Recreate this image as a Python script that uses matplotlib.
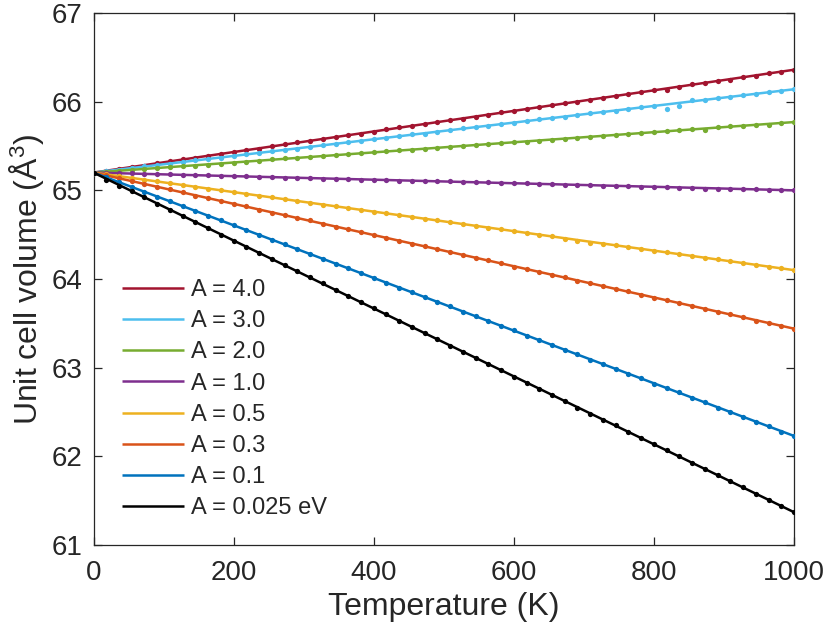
import matplotlib
matplotlib.use("Agg")
import matplotlib.pyplot as plt
import numpy as np

plt.rcParams['font.family'] = ['Liberation Sans', 'DejaVu Sans']
plt.rcParams['mathtext.fontset'] = 'custom'
plt.rcParams['mathtext.rm'] = 'Liberation Sans'
plt.rcParams['mathtext.it'] = 'Liberation Sans'

# Temperature grid of the computed points (K)
temperature = [0, 18.2, 36.4, 54.5, 72.7, 90.9, 109.1, 127.3, 145.5, 163.6, 181.8,
               200, 218.2, 236.4, 254.5, 272.7, 290.9, 309.1, 327.3, 345.5, 363.6, 381.8,
               400, 418.2, 436.4, 454.5, 472.7, 490.9, 509.1, 527.3, 545.5, 563.6, 581.8,
               600, 618.2, 636.4, 654.5, 672.7, 690.9, 709.1, 727.3, 745.5, 763.6, 781.8,
               800, 818.2, 836.4, 854.5, 872.7, 890.9, 909.1, 927.3, 945.5, 963.6, 981.8,
               1000]

labels = ["A = 4.0", "A = 3.0", "A = 2.0", "A = 1.0", "A = 0.5", "A = 0.3", "A = 0.1", "A = 0.025 eV"]
colors = ["#A2142F", "#4DBEEE", "#77AC30", "#7E2F8E", "#EDB120", "#D95319", "#0072BD", "#000000"]

# Computed unit cell volumes (dots)
vol_A4 = [65.20, 65.22, 65.24, 65.26, 65.28, 65.31, 65.33, 65.35, 65.37, 65.39, 65.41,
          65.43, 65.45, 65.47, 65.50, 65.52, 65.54, 65.56, 65.58, 65.60, 65.62, 65.64,
          65.66, 65.69, 65.71, 65.73, 65.75, 65.77, 65.79, 65.81, 65.83, 65.85, 65.88,
          65.90, 65.92, 65.94, 65.96, 65.98, 66.00, 66.02, 66.04, 66.06, 66.09, 66.11,
          66.13, 66.13, 66.16, 66.20, 66.21, 66.23, 66.25, 66.28, 66.29, 66.32, 66.34,
          66.36]
vol_A3 = [65.20, 65.22, 65.23, 65.25, 65.27, 65.29, 65.30, 65.32, 65.34, 65.35, 65.37,
          65.39, 65.41, 65.42, 65.44, 65.46, 65.47, 65.49, 65.51, 65.52, 65.54, 65.56,
          65.58, 65.59, 65.61, 65.63, 65.64, 65.66, 65.68, 65.70, 65.71, 65.73, 65.75,
          65.76, 65.78, 65.80, 65.82, 65.83, 65.85, 65.87, 65.88, 65.90, 65.92, 65.94,
          65.95, 65.92, 65.95, 66.02, 66.02, 66.04, 66.05, 66.07, 66.09, 66.11, 66.12,
          66.14]
vol_A2 = [65.20, 65.21, 65.22, 65.23, 65.24, 65.25, 65.26, 65.27, 65.28, 65.29, 65.30,
          65.31, 65.32, 65.33, 65.35, 65.36, 65.37, 65.38, 65.39, 65.40, 65.41, 65.42,
          65.43, 65.44, 65.45, 65.46, 65.47, 65.48, 65.49, 65.50, 65.51, 65.52, 65.53,
          65.54, 65.55, 65.56, 65.57, 65.58, 65.59, 65.60, 65.61, 65.62, 65.64, 65.65,
          65.66, 65.67, 65.68, 65.69, 65.68, 65.71, 65.72, 65.73, 65.74, 65.74, 65.76,
          65.77]
vol_A1 = [65.20, 65.20, 65.19, 65.19, 65.18, 65.18, 65.18, 65.17, 65.17, 65.17, 65.16,
          65.16, 65.16, 65.15, 65.15, 65.14, 65.14, 65.14, 65.13, 65.13, 65.13, 65.12,
          65.12, 65.12, 65.11, 65.11, 65.10, 65.10, 65.10, 65.09, 65.09, 65.09, 65.08,
          65.08, 65.08, 65.07, 65.07, 65.06, 65.06, 65.06, 65.05, 65.05, 65.05, 65.04,
          65.04, 65.04, 65.03, 65.03, 65.02, 65.02, 65.02, 65.01, 65.01, 65.00, 65.00,
          65.00]
vol_A05 = [65.20, 65.18, 65.16, 65.14, 65.12, 65.10, 65.08, 65.06, 65.04, 65.02, 65.00,
           64.98, 64.96, 64.94, 64.92, 64.90, 64.88, 64.86, 64.84, 64.82, 64.80, 64.78,
           64.76, 64.74, 64.72, 64.70, 64.68, 64.66, 64.64, 64.62, 64.60, 64.58, 64.56,
           64.54, 64.52, 64.50, 64.48, 64.45, 64.43, 64.41, 64.40, 64.38, 64.36, 64.34,
           64.32, 64.30, 64.28, 64.26, 64.24, 64.22, 64.20, 64.18, 64.16, 64.14, 64.12,
           64.10]
vol_A03 = [65.20, 65.17, 65.14, 65.10, 65.07, 65.04, 65.01, 64.98, 64.94, 64.91, 64.88,
           64.85, 64.82, 64.78, 64.75, 64.72, 64.69, 64.66, 64.62, 64.59, 64.56, 64.53,
           64.50, 64.46, 64.43, 64.40, 64.37, 64.34, 64.30, 64.27, 64.24, 64.21, 64.18,
           64.14, 64.11, 64.08, 64.05, 64.02, 63.98, 63.95, 63.92, 63.89, 63.86, 63.82,
           63.79, 63.76, 63.73, 63.70, 63.66, 63.63, 63.60, 63.57, 63.53, 63.50, 63.47,
           63.44]
vol_A01 = [65.20, 65.15, 65.09, 65.04, 64.98, 64.93, 64.88, 64.82, 64.77, 64.71, 64.66,
           64.61, 64.55, 64.50, 64.44, 64.39, 64.34, 64.28, 64.23, 64.17, 64.12, 64.07,
           64.01, 63.96, 63.90, 63.85, 63.80, 63.74, 63.69, 63.63, 63.58, 63.53, 63.47,
           63.42, 63.36, 63.31, 63.26, 63.20, 63.15, 63.09, 63.04, 62.99, 62.93, 62.88,
           62.82, 62.77, 62.72, 62.66, 62.61, 62.55, 62.50, 62.44, 62.39, 62.34, 62.28,
           62.23]
vol_A0025 = [65.20, 65.12, 65.05, 64.99, 64.92, 64.85, 64.78, 64.71, 64.64, 64.57, 64.50,
             64.43, 64.36, 64.29, 64.23, 64.16, 64.09, 64.02, 63.95, 63.88, 63.81, 63.74,
             63.67, 63.60, 63.53, 63.46, 63.39, 63.32, 63.25, 63.18, 63.11, 63.04, 62.97,
             62.90, 62.83, 62.76, 62.69, 62.62, 62.55, 62.48, 62.41, 62.35, 62.28, 62.21,
             62.14, 62.07, 62.00, 61.93, 61.86, 61.79, 61.72, 61.65, 61.58, 61.51, 61.44,
             61.37]
volumes = [vol_A4, vol_A3, vol_A2, vol_A1, vol_A05, vol_A03, vol_A01, vol_A0025]

# Linear fits: volume at 0 K and at 1000 K
fit_T = [0, 1000]
fit_start = [65.20, 65.20, 65.20, 65.20, 65.20, 65.20, 65.20, 65.20]
fit_end = [66.36, 66.14, 65.77, 65.00, 64.10, 63.44, 62.23, 61.37]

fig = plt.figure(figsize=(8.30, 6.39), dpi=100)
ax = fig.add_axes([93.5 / 830, 1 - 545 / 639, (794 - 93.5) / 830, (545 - 13) / 639])

handles = []
for i in range(len(labels)):
    z = 2 + i
    ax.plot(temperature, volumes[i], linestyle='none', marker='o', markersize=3.8,
            markeredgewidth=0, color=colors[i], zorder=z + 0.5)
    h, = ax.plot(fit_T, [fit_start[i], fit_end[i]], '-', color=colors[i], lw=1.8,
                 zorder=z, solid_capstyle='butt')
    handles.append(h)

ax.set_xlim(0, 1000)
ax.set_ylim(61, 67)
ax.set_xticks([0, 200, 400, 600, 800, 1000])
ax.set_yticks([61, 62, 63, 64, 65, 66, 67])

axc = '#262626'
for s in ax.spines.values():
    s.set_color(axc)
    s.set_linewidth(0.9)
ax.tick_params(direction='in', length=6, width=0.9, colors=axc, labelsize=20,
               top=True, right=True)
ax.tick_params(axis='x', pad=11)
ax.tick_params(axis='y', pad=8)

ax.set_xlabel('Temperature (K)', fontsize=23, color=axc, labelpad=4)
ax.set_ylabel('Unit cell volume (Å$^3$)', fontsize=23, color=axc, labelpad=4)

leg = ax.legend(handles, labels, loc='lower left', bbox_to_anchor=(0.04, 0.048),
                frameon=False, fontsize=17, handlelength=2.65, handletextpad=0.3,
                labelspacing=0.39, borderaxespad=0.0, borderpad=0.0)
for t in leg.get_texts():
    t.set_color(axc)

fig.savefig('out.png', dpi=100)
